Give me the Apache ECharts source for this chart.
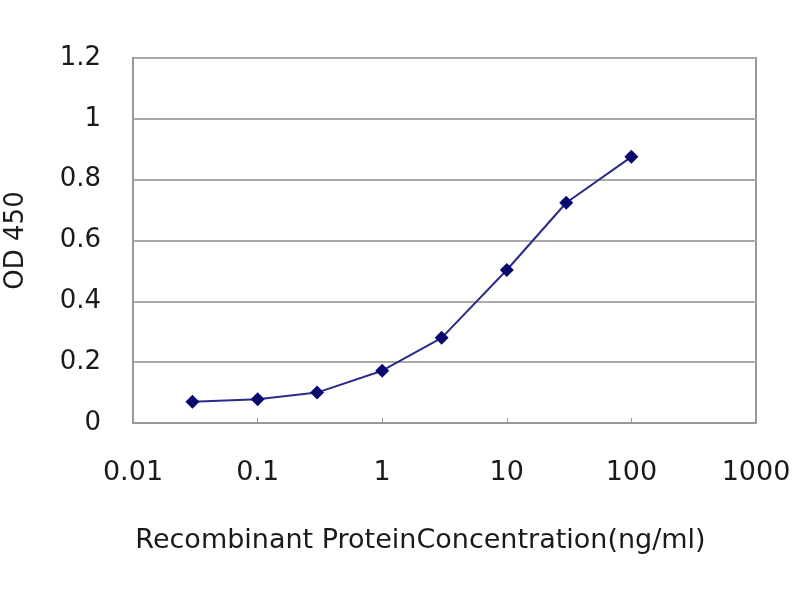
<!DOCTYPE html>
<html>
<head>
<meta charset="utf-8">
<script src="https://cdn.jsdelivr.net/npm/echarts@6/dist/echarts.min.js"></script>
<style>
  html, body { margin: 0; padding: 0; background: #fff; }
  #chart { width: 800px; height: 600px; }
</style>
</head>
<body>
<div id="chart"></div>
<script>
// concentration (ng/ml) and OD 450 readings
const concentrations = [0.03, 0.1, 0.3, 1, 3, 10, 30, 100];
const odValues = [0.07, 0.078, 0.1, 0.172, 0.28, 0.503, 0.724, 0.875];
const xTickLabels = ["0.01", "0.1", "1", "10", "100", "1000"];

const chart = echarts.init(document.getElementById("chart"));
const font = "DejaVu Sans, Liberation Sans, sans-serif";

chart.setOption({
  animation: false,
  backgroundColor: "#fff",
  grid: { left: 133, right: 44, top: 58, bottom: 177, containLabel: false, outerBoundsMode: "none" },
  xAxis: {
    type: "log",
    logBase: 10,
    min: 0.01,
    max: 1000,
    name: "Recombinant ProteinConcentration(ng/ml)",
    nameLocation: "middle",
    nameGap: 104,
    nameTextStyle: { fontFamily: font, fontSize: 27, color: "#1a1a1a", padding: [0, 48, 0, 0] },
    axisLine: { show: true, lineStyle: { color: "#999", width: 2 } },
    axisTick: { show: true, inside: true, length: 5, lineStyle: { color: "#999" } },
    splitLine: { show: false },
    axisLabel: {
      fontFamily: font, fontSize: 27, color: "#1a1a1a", margin: 36,
      formatter: (v) => {
        const i = Math.round(Math.log10(v)) + 2;
        return xTickLabels[i] || "";
      }
    }
  },
  yAxis: {
    type: "value",
    min: 0,
    max: 1.2,
    interval: 0.2,
    name: "OD 450",
    nameLocation: "middle",
    nameGap: 104,
    nameRotate: 90,
    nameTextStyle: { fontFamily: font, fontSize: 26, color: "#1a1a1a" },
    axisLine: { show: true, lineStyle: { color: "#999", width: 2 } },
    axisTick: { show: false },
    splitLine: { show: true, lineStyle: { color: "#aaa", width: 2 } },
    axisLabel: {
      fontFamily: font, fontSize: 26, color: "#1a1a1a", margin: 32,
      formatter: (v) => (Math.round(v * 10) / 10).toString()
    }
  },
  series: [{
    type: "line",
    data: concentrations.map((c, i) => [c, odValues[i]]),
    symbol: "diamond",
    symbolSize: 14,
    itemStyle: { color: "#0a0a6e" },
    lineStyle: { color: "#2a2a8a", width: 2 }
  }],
  graphic: [{
    type: "rect",
    shape: { x: 133, y: 58, width: 623, height: 365 },
    style: { fill: "none", stroke: "#999", lineWidth: 2 },
    silent: true,
    z: -1
  }]
});
</script>
</body>
</html>
